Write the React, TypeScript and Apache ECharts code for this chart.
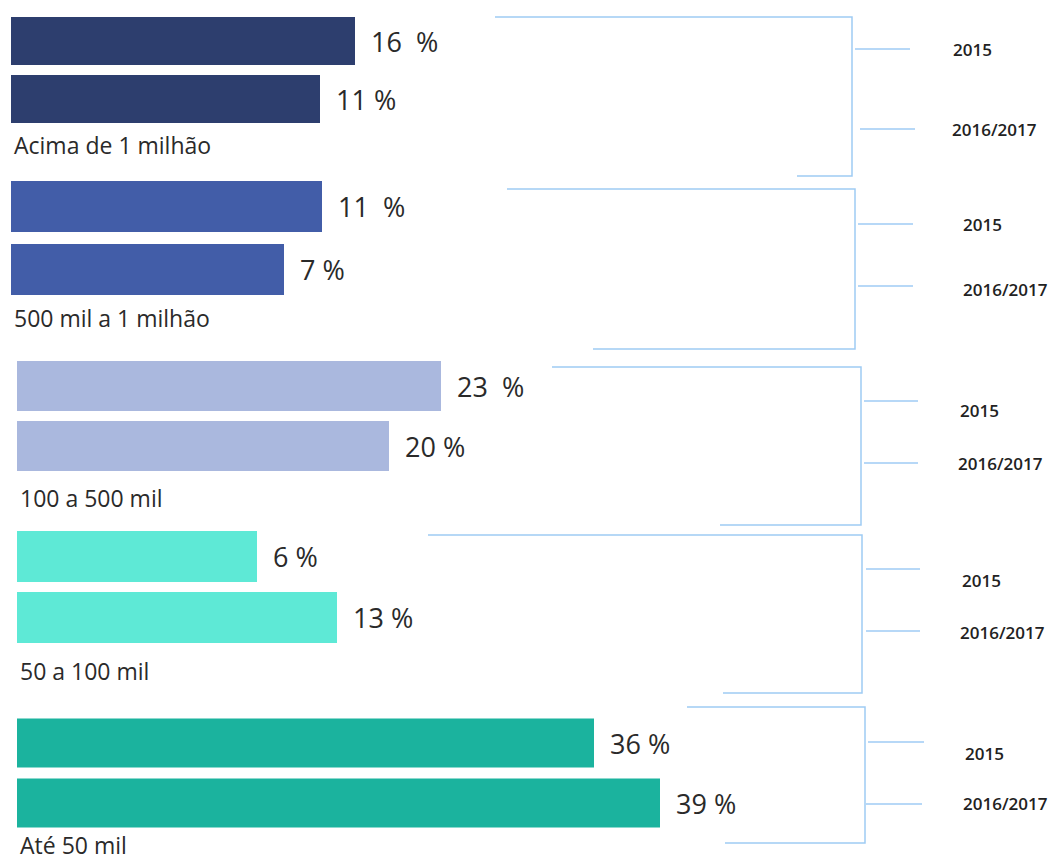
import React, { useEffect, useRef } from "react";
import * as echarts from "echarts";

// ---- data ----
const categories = ["Acima de 1 milhão", "500 mil a 1 milhão", "100 a 500 mil", "50 a 100 mil", "Até 50 mil"];
const periods = ["2015", "2016/2017"];
const pct2015 = [16, 11, 23, 6, 36];
const pct2016 = [11, 7, 20, 13, 39];
// the infographic's bars are hand-drawn and not proportional; drawn length
const barLength2015 = [344, 311, 424, 240, 577];
const barLength2016 = [309, 273, 372, 320, 643];
const sep2015 = ["  ", "  ", "  ", " ", " "];
const sep2016 = [" ", " ", " ", " ", " "];

// ---- styles / layout ----
const colors = ["#2D3E6E", "#425DA8", "#AAB8DE", "#5EE9D6", "#1BB39E"];
const groupLayout = [
  { left: 11, top: 12, height: 116, barWidth: 48, nameY: 145, bracket: { top: 17, bottom: 176, x: 852, topStart: 495, botStart: 797, ticks: [49, 129], tickX: [[855, 910], [860, 915]], labX: [953, 952], labY: [49, 129] } },
  { left: 11, top: 175, height: 126, barWidth: 51, nameY: 318, bracket: { top: 189, bottom: 349, x: 855, topStart: 507, botStart: 593, ticks: [224, 286], tickX: [[858, 913], [858, 913]], labX: [963, 963], labY: [224, 289] } },
  { left: 17, top: 356, height: 120, barWidth: 50, nameY: 498, bracket: { top: 367, bottom: 525, x: 861, topStart: 552, botStart: 720, ticks: [401, 463], tickX: [[864, 918], [864, 918]], labX: [960, 958], labY: [410, 463] } },
  { left: 17, top: 526, height: 122, barWidth: 51, nameY: 671, bracket: { top: 535, bottom: 693, x: 862, topStart: 428, botStart: 723, ticks: [569, 631], tickX: [[866, 920], [866, 920]], labX: [962, 960], labY: [580, 632] } },
  { left: 17, top: 713, height: 120, barWidth: 49, nameY: 845, bracket: { top: 707, bottom: 843, x: 865, topStart: 687, botStart: 725, ticks: [742, 804], tickX: [[868, 924], [866, 922]], labX: [965, 963], labY: [753, 803] } },
];
const lineColor = "#9FCBF4";
const font = "'Open Sans', 'Noto Sans', sans-serif";

export default function App() {
  const ref = useRef<HTMLDivElement>(null);

  useEffect(() => {
    document.body.style.margin = "0";
    if (!ref.current) return;
    const chart = echarts.init(ref.current, undefined, { renderer: "svg" });

    const grid: any[] = [];
    const xAxis: any[] = [];
    const yAxis: any[] = [];
    const series: any[] = [];
    const graphic: any[] = [];

    categories.forEach((cat, g) => {
      const L = groupLayout[g];
      grid.push({ left: L.left, top: L.top, width: 1000, height: L.height });
      xAxis.push({ gridIndex: g, type: "value", min: 0, max: 1000, show: false });
      yAxis.push({ gridIndex: g, type: "category", data: periods, inverse: true, show: false });
      const labels = [
        `${pct2015[g]}${sep2015[g]}%`,
        `${pct2016[g]}${sep2016[g]}%`,
      ];
      series.push({
        type: "bar",
        name: cat,
        xAxisIndex: g,
        yAxisIndex: g,
        barWidth: L.barWidth,
        data: [barLength2015[g], barLength2016[g]],
        itemStyle: { color: colors[g] },
        label: {
          show: true,
          position: "right",
          distance: 16,
          fontSize: 27,
          fontFamily: font,
          color: "#2a2a2a",
          formatter: (p: any) => labels[p.dataIndex],
        },
      });

      // category name under the bars
      graphic.push({
        type: "text",
        x: L.left + 3,
        y: L.nameY,
        style: {
          text: cat,
          fontSize: 23,
          fontFamily: font,
          fill: "#2a2a2a",
          verticalAlign: "middle",
        },
      });

      // bracket
      const B = L.bracket;
      graphic.push({
        type: "polyline",
        shape: {
          points: [
            [B.topStart, B.top],
            [B.x, B.top],
            [B.x, B.bottom],
            [B.botStart, B.bottom],
          ],
        },
        style: { stroke: lineColor, lineWidth: 1.5, fill: null },
      });
      B.ticks.forEach((ty, i) => {
        graphic.push({
          type: "line",
          shape: { x1: B.tickX[i][0], y1: ty, x2: B.tickX[i][1], y2: ty },
          style: { stroke: lineColor, lineWidth: 1.5 },
        });
        graphic.push({
          type: "text",
          x: B.labX[i],
          y: B.labY[i],
          style: {
            text: periods[i],
            fontSize: 17,
            fontWeight: 600,
            fontFamily: font,
            fill: "#222222",
            verticalAlign: "middle",
          },
        });
      });
    });

    chart.setOption({
      animation: false,
      backgroundColor: "#ffffff",
      grid,
      xAxis,
      yAxis,
      series,
      graphic,
    });

    return () => chart.dispose();
  }, []);

  return <div ref={ref} style={{ width: 1059, height: 862 }} />;
}
